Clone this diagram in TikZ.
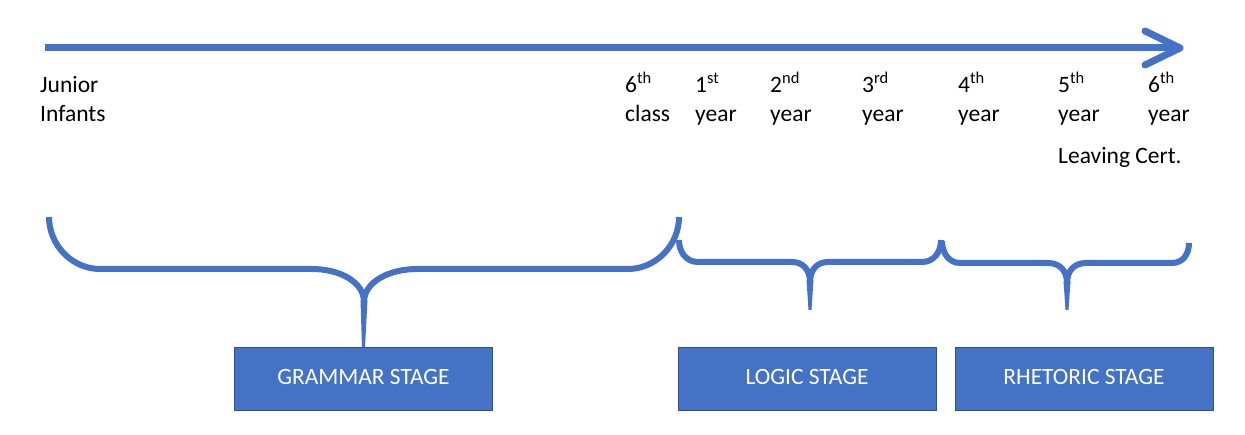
\documentclass[tikz,border=0pt]{standalone}
\usepackage{fontspec}
\setmainfont{Carlito}
\usepackage{tikz}
\usetikzlibrary{calc}
\definecolor{officeblue}{HTML}{4472C4}
\definecolor{boxedge}{HTML}{2F528F}
\tikzset{
	timeline/.style={draw=officeblue, line width=7pt},
	bracket/.style={draw=officeblue, line width=6pt},
	yearlbl/.style={anchor=base west, inner sep=0pt, font=\fontsize{23.5}{28}\selectfont},
	stagebox/.style={draw=boxedge, line width=1pt, fill=officeblue, text=white, minimum width=258pt, minimum height=63pt, inner sep=0pt, text height=15pt, text depth=4pt, font=\fontsize{23.4}{27}\selectfont}
}
\def\stem(#1)(#2){\fill[officeblue] ($(#1)+(-3.5,-2)$) -- ($(#2)+(-1.5,0)$) -- ($(#2)+(1.5,0)$) -- ($(#1)+(3.5,-2)$) -- cycle;}

\begin{document}
\begin{tikzpicture}[x=1pt, y=-1pt]
		%%%%% START %%%%%
		\useasboundingbox (0,0) rectangle (1245,435);
		
		\coordinate (arrstart) at (45,48);
		\coordinate (arrtip) at (1180,48);
		\draw[timeline] (arrstart) -- ([xshift=-3pt]arrtip);
		\draw[timeline, line cap=round, line join=round] ($(arrtip)+(-35,-17)$) -- (arrtip) -- ($(arrtip)+(-35,17)$);
		
		\node[yearlbl] (junior) at (40,93) {Junior};
		\node[yearlbl] (infants) at (40,122) {Infants};
		\foreach \xpos/\num/\suf/\word [count=\i] in {625/6/th/class, 695/1/st/year, 770/2/nd/year, 862/3/rd/year, 958/4/th/year, 1058/5/th/year, 1148/6/th/year}
		{
			\node[yearlbl] (yrtop\i) at (\xpos,93) {\num\textsuperscript{\suf}};
			\node[yearlbl] (yrbot\i) at (\xpos,122) {\word};
		}
		\node[yearlbl] (leaving) at (1058,164) {Leaving Cert.};
		
		\node[stagebox] (grammar) at (363.5,379.5) {GRAMMAR STAGE};
		\node[stagebox] (logic) at (807,379.5) {LOGIC STAGE};
		\node[stagebox] (rhetoric) at (1084,379.5) {RHETORIC STAGE};
		
		% grammar brace
		\coordinate (gtip) at (364,302);
		\draw[bracket] (49,217) .. controls (49,245) and (72,269) .. (100,269) -- (312,269) .. controls (340,269) and (364,282) .. (gtip);
		\draw[bracket] (gtip) .. controls (364,282) and (389,269) .. (417,269) -- (628,269) .. controls (656,269) and (679,245) .. (679,217);
		\stem(gtip)(grammar.north)
		
		% logic brace
		\coordinate (ltip) at (810,282);
		\coordinate (lend) at (810,310);
		\draw[bracket] (679,240) .. controls (679,252) and (686,262) .. (698,262) -- (792,262) .. controls (803,262) and (810,270) .. (ltip);
		\draw[bracket] (ltip) .. controls (810,270) and (817,262) .. (828,262) -- (922,262) .. controls (934,262) and (941,252) .. (941,240);
		\stem(ltip)(lend)
		
		% rhetoric brace
		\coordinate (rtip) at (1067,283);
		\coordinate (rend) at (1067,310);
		\draw[bracket] (942,241) .. controls (942,253) and (949,263) .. (960,263) -- (1048,263) .. controls (1060,263) and (1067,271) .. (rtip);
		\draw[bracket] (rtip) .. controls (1067,271) and (1074,263) .. (1086,263) -- (1172,263) .. controls (1183,263) and (1189,254) .. (1189,243);
		\stem(rtip)(rend)
		%%%%% END %%%%%
	\end{tikzpicture}
\end{document}
